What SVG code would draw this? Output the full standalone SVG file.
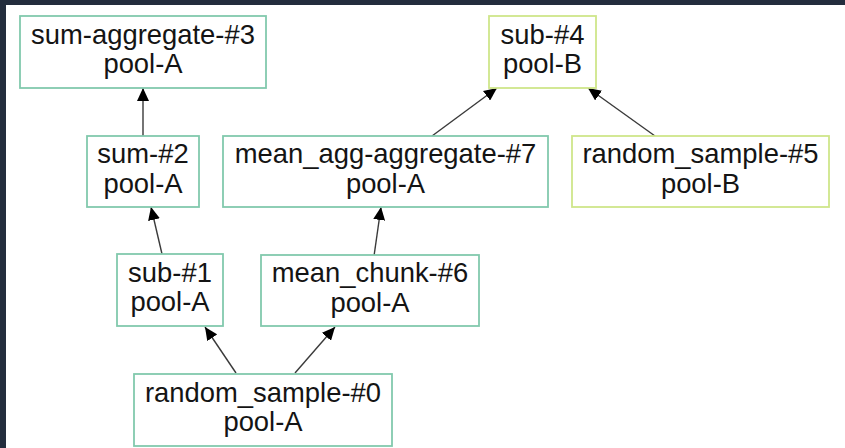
<svg xmlns="http://www.w3.org/2000/svg" width="845" height="448" viewBox="0 0 845 448">
<style>
.bg{fill:#ffffff}
.band{fill:#232d3d}
.a{fill:#ffffff;stroke:#82c9ad;stroke-width:1.8}
.b{fill:#ffffff;stroke:#cfe68a;stroke-width:1.8}
text{font-family:"Liberation Sans",Arial,Helvetica,sans-serif;font-size:27.4px;fill:#141414;text-anchor:middle}
.e{stroke:#3a3a3a;stroke-width:1.4;fill:none;marker-end:url(#ah)}
</style>
<defs>
<marker id="ah" markerUnits="userSpaceOnUse" markerWidth="14" markerHeight="12" viewBox="0 0 14 12" refX="13" refY="6" orient="auto">
<path d="M0,0 L13,6 L0,12 Z" fill="#000"/>
</marker>
</defs>
<rect class="bg" x="0" y="0" width="845" height="448"/>
<rect class="band" x="0" y="0" width="845" height="5"/>
<rect class="band" x="0" y="0" width="6" height="448"/>
<g id="connectors">
<line class="e" x1="143" y1="136" x2="143" y2="88"/>
<line class="e" x1="162" y1="254" x2="151" y2="207"/>
<line class="e" x1="236" y1="373" x2="205" y2="327"/>
<line class="e" x1="295" y1="373" x2="335" y2="327"/>
<line class="e" x1="374" y1="256" x2="381" y2="207"/>
<line class="e" x1="432" y1="136" x2="497" y2="88"/>
<line class="e" x1="655" y1="136" x2="588" y2="88"/>
</g>
<g id="sum-aggregate-3"><rect class="a" x="20" y="16" width="246" height="72"/><text x="143" y="43.5">sum-aggregate-#3</text><text x="143" y="73">pool-A</text></g>
<g id="sub-4"><rect class="b" x="489" y="16" width="107" height="72"/><text x="542.5" y="43.5">sub-#4</text><text x="542.5" y="73">pool-B</text></g>
<g id="sum-2"><rect class="a" x="87" y="136" width="112" height="71"/><text x="143" y="163">sum-#2</text><text x="143" y="192.5">pool-A</text></g>
<g id="mean_agg-aggregate-7"><rect class="a" x="223" y="136" width="325" height="71"/><text x="385.5" y="163">mean_agg-aggregate-#7</text><text x="385.5" y="192.5">pool-A</text></g>
<g id="random_sample-5"><rect class="b" x="572" y="136" width="257" height="71"/><text x="700.5" y="163">random_sample-#5</text><text x="700.5" y="192.5">pool-B</text></g>
<g id="sub-1"><rect class="a" x="117" y="254" width="106" height="72"/><text x="170" y="281.5">sub-#1</text><text x="170" y="311">pool-A</text></g>
<g id="mean_chunk-6"><rect class="a" x="261" y="255" width="218" height="71"/><text x="370" y="282">mean_chunk-#6</text><text x="370" y="311.5">pool-A</text></g>
<g id="random_sample-0"><rect class="a" x="134" y="374" width="258" height="72"/><text x="263" y="401.5">random_sample-#0</text><text x="263" y="431">pool-A</text></g>
</svg>
